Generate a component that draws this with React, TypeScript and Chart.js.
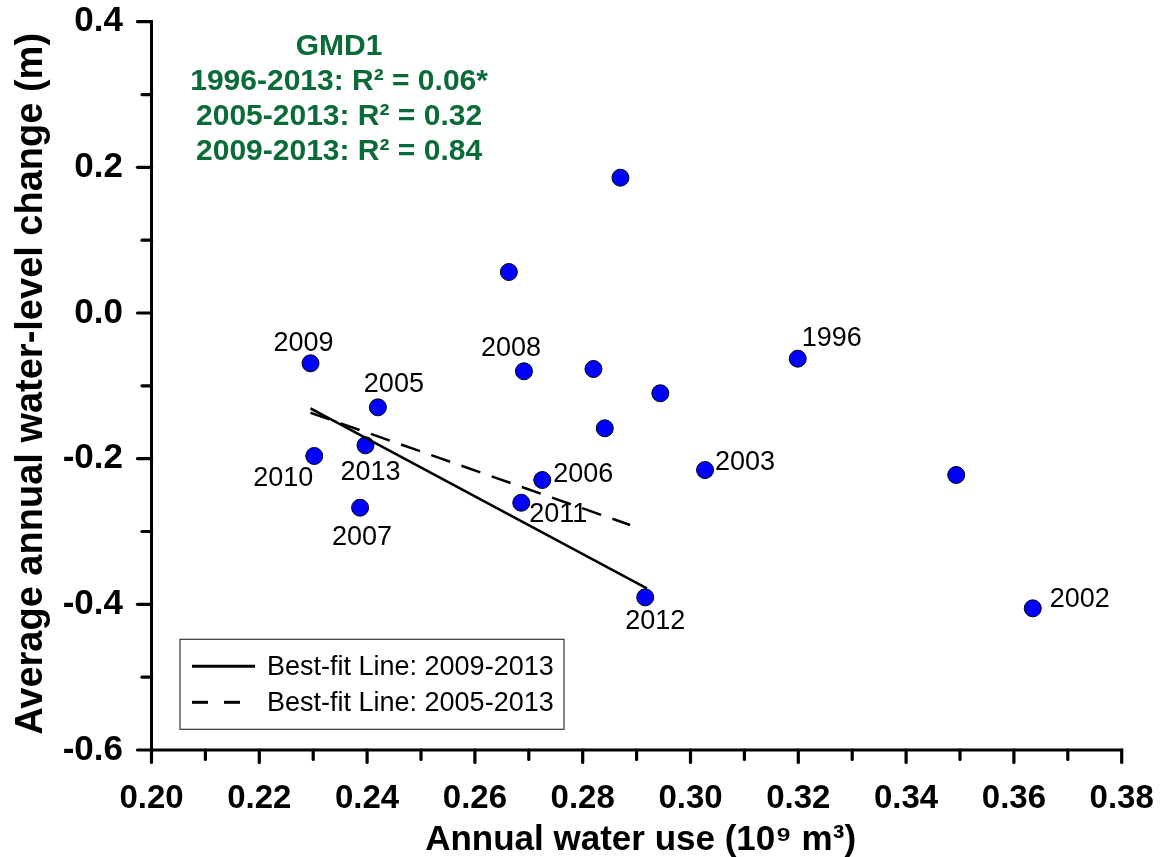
import { useEffect, useRef } from "react";
import { Chart, registerables } from "chart.js";

Chart.register(...registerables);

const FONT = "Arial, 'Liberation Sans', Helvetica, sans-serif";

// Scatter data: annual water use (10^9 m^3) vs average annual water-level change (m)
const waterUse = [0.3199, 0.2870, 0.2663, 0.2820, 0.2944, 0.3493, 0.3635, 0.3027, 0.2841, 0.2420, 0.2725, 0.2387, 0.2691, 0.2295, 0.2302, 0.2686, 0.2916, 0.2397];
const levelChange = [-0.0627, 0.1858, 0.0563, -0.0769, -0.1102, -0.2224, -0.4055, -0.2156, -0.1583, -0.1295, -0.2293, -0.2673, -0.0800, -0.0691, -0.1963, -0.2605, -0.3904, -0.1817];
const pointYears = ["1996", "", "", "", "", "", "2002", "2003", "", "2005", "2006", "2007", "2008", "2009", "2010", "2011", "2012", "2013"];
// label placement relative to its point (px)
const labelOffsets = [[34, -20], [0, 0], [0, 0], [0, 0], [0, 0], [0, 0], [47, -9], [40, -7], [0, 0], [16, -23], [41, -5], [2, 30], [-13, -23], [-7, -20], [-31, 23], [37, 12], [10, 24], [5, 27]];

// Best-fit lines
const fit0913X = [0.2295, 0.2919];
const fit0913Y = [-0.1308, -0.3780];
const fit0513X = [0.2295, 0.2888];
const fit0513Y = [-0.1369, -0.2911];

const legendLabels = ["Best-fit Line: 2009-2013", "Best-fit Line: 2005-2013"];
const annotationLines = ["GMD1", "1996-2013: R\u00B2 = 0.06*", "2005-2013: R\u00B2 = 0.32", "2009-2013: R\u00B2 = 0.84"];
const annotationAnchor = { x: 0.2348, y: 0.3653 };

const xTitle = "Annual water use (10\u2079 m\u00B3)";
const yTitle = "Average annual water-level change (m)";

const decorPlugin = {
  id: "decor",
  afterDatasetsDraw(chart: any) {
    const { ctx } = chart;
    const meta = chart.getDatasetMeta(0);
    ctx.save();
    ctx.fillStyle = "#000";
    ctx.font = `27px ${FONT}`;
    ctx.textAlign = "center";
    ctx.textBaseline = "middle";
    pointYears.forEach((lab, i) => {
      if (!lab) return;
      const el = meta.data[i];
      ctx.fillText(lab, el.x + labelOffsets[i][0], el.y + labelOffsets[i][1]);
    });
    ctx.restore();
  },
  afterDraw(chart: any) {
    const { ctx, chartArea: ca, scales } = chart;
    const xs = scales.x;
    const ys = scales.y;
    ctx.save();
    // axis lines
    ctx.strokeStyle = "#000";
    ctx.lineWidth = 3;
    ctx.lineCap = "square";
    ctx.beginPath();
    ctx.moveTo(ca.left, ca.top);
    ctx.lineTo(ca.left, ca.bottom);
    ctx.lineTo(ca.right, ca.bottom);
    ctx.stroke();

    // ticks (major at scale ticks, minor halfway)
    ctx.lineCap = "round";
    ctx.lineWidth = 3.2;
    const xt = xs.ticks.map((t: any) => t.value);
    const yt = ys.ticks.map((t: any) => t.value);
    const drawX = (v: number, len: number) => {
      const p = xs.getPixelForValue(v);
      ctx.beginPath();
      ctx.moveTo(p, ca.bottom);
      ctx.lineTo(p, ca.bottom + len);
      ctx.stroke();
    };
    const drawY = (v: number, len: number) => {
      const p = ys.getPixelForValue(v);
      ctx.beginPath();
      ctx.moveTo(ca.left, p);
      ctx.lineTo(ca.left - len, p);
      ctx.stroke();
    };
    xt.forEach((v: number, i: number) => {
      drawX(v, 12.5);
      if (i < xt.length - 1) drawX((v + xt[i + 1]) / 2, 9.5);
    });
    yt.forEach((v: number, i: number) => {
      drawY(v, 14);
      if (i < yt.length - 1) drawY((v + yt[i + 1]) / 2, 9.5);
    });

    // axis titles
    ctx.fillStyle = "#000";
    ctx.font = `bold 35px ${FONT}`;
    ctx.textAlign = "center";
    ctx.textBaseline = "alphabetic";
    ctx.fillText(xTitle, (ca.left + ca.right) / 2 + 4, 850);

    ctx.save();
    ctx.font = `bold 38px ${FONT}`;
    ctx.translate(42, (ca.top + ca.bottom) / 2 - 2);
    ctx.rotate(-Math.PI / 2);
    ctx.fillText(yTitle, 0, 0);
    ctx.restore();

    // green annotation
    ctx.fillStyle = "#0B6B38";
    ctx.font = `bold 30px ${FONT}`;
    ctx.textBaseline = "middle";
    const ax = xs.getPixelForValue(annotationAnchor.x);
    const ay = ys.getPixelForValue(annotationAnchor.y);
    annotationLines.forEach((t, i) => {
      ctx.fillText(t, ax, ay + i * 35);
    });

    // legend box
    const lx = ca.left + 28.5;
    const ly = ca.bottom - 110.7;
    ctx.strokeStyle = "#333";
    ctx.lineWidth = 1.2;
    ctx.lineCap = "butt";
    ctx.strokeRect(lx, ly, 384, 90);
    ctx.font = `27px ${FONT}`;
    ctx.textAlign = "left";
    ctx.fillStyle = "#000";
    ctx.strokeStyle = "#000";
    ctx.lineWidth = 3;
    legendLabels.forEach((t, i) => {
      const yy = ly + 27 + i * 36;
      ctx.setLineDash(i === 0 ? [] : [16, 16]);
      ctx.beginPath();
      ctx.moveTo(lx + 12, yy);
      ctx.lineTo(lx + 75, yy);
      ctx.stroke();
      ctx.setLineDash([]);
      ctx.fillText(t, lx + 87, yy + 1);
    });
    ctx.restore();
  },
};

export default function App() {
  const ref = useRef<HTMLCanvasElement>(null);
  useEffect(() => {
    const hiddenGrid = (len: number) => ({
      display: true,
      drawOnChartArea: false,
      drawTicks: true,
      tickLength: len,
      color: "rgba(0,0,0,0)",
    });
    const chart = new Chart(ref.current as HTMLCanvasElement, {
      type: "scatter",
      data: {
        datasets: [
          {
            type: "scatter",
            label: "Water-level change",
            data: waterUse.map((x, i) => ({ x, y: levelChange[i] })),
            pointRadius: 8.5,
            pointBackgroundColor: "#0000FF",
            pointBorderColor: "#000",
            pointBorderWidth: 1,
            order: 2,
          },
          {
            type: "line",
            label: legendLabels[0],
            data: fit0913X.map((x, i) => ({ x, y: fit0913Y[i] })),
            borderColor: "#000",
            borderWidth: 2.5,
            pointRadius: 0,
            fill: false,
            order: 1,
          },
          {
            type: "line",
            label: legendLabels[1],
            data: fit0513X.map((x, i) => ({ x, y: fit0513Y[i] })),
            borderColor: "#000",
            borderWidth: 2.5,
            borderDash: [20, 12],
            pointRadius: 0,
            fill: false,
            order: 1,
          },
        ] as any,
      },
      options: {
        animation: false,
        responsive: false,
        layout: { padding: { top: 21.7, right: 39.3, left: 0, bottom: 0 } },
        plugins: { legend: { display: false }, tooltip: { enabled: false } },
        scales: {
          x: {
            type: "linear",
            position: "bottom",
            min: 0.2,
            max: 0.38,
            ticks: {
              stepSize: 0.02,
              autoSkip: false,
              maxRotation: 0,
              minRotation: 0,
              padding: 0,
              color: "#000",
              font: { family: FONT, size: 33, weight: "bold" },
              callback: (v: any) => Number(v).toFixed(2),
            },
            grid: hiddenGrid(29),
            border: { display: false },
            afterFit: (s: any) => {
              s.height = 107;
            },
          },
          y: {
            type: "linear",
            min: -0.6,
            max: 0.4,
            ticks: {
              stepSize: 0.2,
              padding: 0,
              color: "#000",
              font: { family: FONT, size: 35, weight: "bold" },
              callback: (v: any) => (Math.abs(Number(v)) < 1e-9 ? "0.0" : Number(v).toFixed(1)),
            },
            grid: hiddenGrid(28.5),
            border: { display: false },
            afterFit: (s: any) => {
              s.width = 151.5;
            },
          },
        },
      } as any,
      plugins: [decorPlugin],
    });
    return () => chart.destroy();
  }, []);
  return (
    <div style={{ position: "fixed", left: 0, top: 0, width: 1161, height: 857, background: "#fff" }}>
      <canvas ref={ref} width={1161} height={857} style={{ display: "block", width: 1161, height: 857 }} />
    </div>
  );
}
